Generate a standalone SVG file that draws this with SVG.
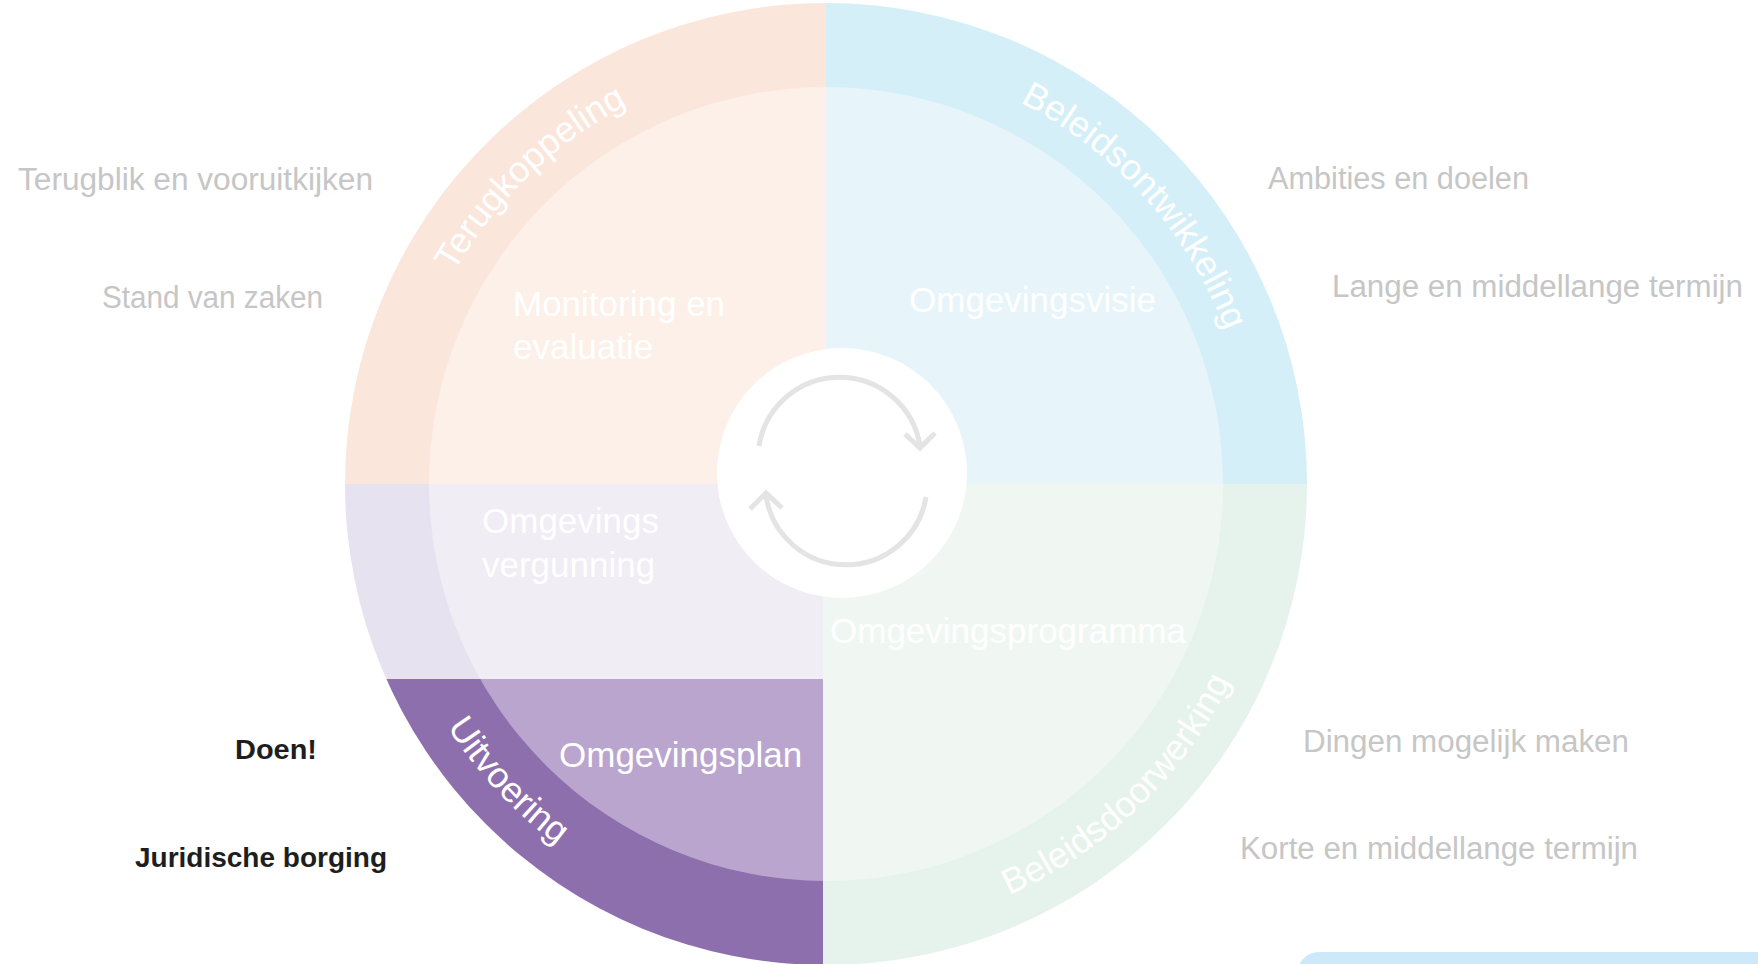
<svg xmlns="http://www.w3.org/2000/svg" width="1758" height="964" viewBox="0 0 1758 964">
  <style>
    .side { font-family: "Liberation Sans", Arial, sans-serif; font-size: 31px; fill: #c6c6c6; }
    .dark { font-family: "Liberation Sans", Arial, sans-serif; font-size: 28px; font-weight: bold; fill: #1e1e1e; }
    .inner { font-family: "Liberation Sans", Arial, sans-serif; font-size: 35px; fill: #ffffff; }
    .ring { font-family: "Liberation Sans", Arial, sans-serif; font-size: 36px; fill: #ffffff; }
    .cyc { fill: none; stroke: #e4e4e4; stroke-width: 5; }
  </style>
  <defs>
    <clipPath id="outerClip"><circle cx="826" cy="484" r="481"/></clipPath>
    <clipPath id="innerClip"><circle cx="826" cy="484" r="397"/></clipPath>
    <path id="arcTerug" d="M 398.07 476.53 A 428 428 0 0 1 833.47 56.07"/>
    <path id="arcOntw" d="M 848.40 56.59 A 428 428 0 0 1 1253.41 506.40"/>
    <path id="arcDoor" d="M 818.15 933.93 A 450 450 0 0 0 1275.93 491.85"/>
    <path id="arcUitv" d="M 376.27 468.30 A 450 450 0 0 0 810.30 933.73"/>
  </defs>

  <rect x="0" y="0" width="1758" height="964" fill="#ffffff"/>

  <!-- bottom-right light blue panel -->
  <rect x="1297" y="952" width="500" height="60" rx="22" fill="#cde8f8"/>

  <g id="q-terugkoppeling">
    <rect x="340" y="0" width="486" height="484" fill="#fbe6dc" clip-path="url(#outerClip)"/>
    <rect x="340" y="0" width="486" height="484" fill="#fcf0e9" clip-path="url(#innerClip)"/>
    <text class="ring"><textPath href="#arcTerug" startOffset="50%" text-anchor="middle">Terugkoppeling</textPath></text>
    <text class="inner" x="513" y="316">Monitoring en</text>
    <text class="inner" x="513" y="359">evaluatie</text>
  </g>

  <g id="q-beleidsontwikkeling">
    <rect x="826" y="0" width="486" height="484" fill="#d4eff7" clip-path="url(#outerClip)"/>
    <rect x="826" y="0" width="486" height="484" fill="#e7f5fa" clip-path="url(#innerClip)"/>
    <text class="ring"><textPath href="#arcOntw" startOffset="50%" text-anchor="middle">Beleidsontwikkeling</textPath></text>
    <text class="inner" x="909" y="312">Omgevingsvisie</text>
  </g>

  <g id="q-beleidsdoorwerking">
    <rect x="823" y="484" width="489" height="484" fill="#e6f3ec" clip-path="url(#outerClip)"/>
    <rect x="823" y="484" width="489" height="484" fill="#f0f7f3" clip-path="url(#innerClip)"/>
    <text class="ring"><textPath href="#arcDoor" startOffset="50%" text-anchor="middle">Beleidsdoorwerking</textPath></text>
    <text class="inner" x="830" y="643">Omgevingsprogramma</text>
  </g>

  <g id="q-vergunning">
    <rect x="340" y="484" width="483" height="195" fill="#e7e2ef" clip-path="url(#outerClip)"/>
    <rect x="340" y="484" width="483" height="195" fill="#f0edf5" clip-path="url(#innerClip)"/>
    <text class="inner" x="482" y="533">Omgevings</text>
    <text class="inner" x="482" y="577">vergunning</text>
  </g>

  <g id="q-uitvoering">
    <rect x="340" y="679" width="483" height="290" fill="#8e6fad" clip-path="url(#outerClip)"/>
    <rect x="340" y="679" width="483" height="290" fill="#b9a5cd" clip-path="url(#innerClip)"/>
    <text class="ring"><textPath href="#arcUitv" startOffset="50%" text-anchor="middle">Uitvoering</textPath></text>
    <text class="inner" x="559" y="767">Omgevingsplan</text>
  </g>

  <g id="center">
    <circle cx="842" cy="473" r="125" fill="#ffffff"/>
  </g>

  <g id="connectors">
    <path class="cyc" d="M 759 446 A 81.5 81.5 0 0 1 920 446"/>
    <path class="cyc" d="M 905 434 L 920 448 L 935 433"/>
    <path class="cyc" d="M 926 497 A 81 81 0 0 1 766 496"/>
    <path class="cyc" d="M 750 509 L 766 493 L 782 508"/>
  </g>

  <g id="labels-left">
    <text class="side" x="18" y="190" textLength="355" lengthAdjust="spacingAndGlyphs">Terugblik en vooruitkijken</text>
    <text class="side" x="102" y="308" textLength="221" lengthAdjust="spacingAndGlyphs">Stand van zaken</text>
    <text class="dark" x="235" y="759" textLength="82" lengthAdjust="spacingAndGlyphs">Doen!</text>
    <text class="dark" x="135" y="867" textLength="252" lengthAdjust="spacingAndGlyphs">Juridische borging</text>
  </g>

  <g id="labels-right">
    <text class="side" x="1268" y="189" textLength="261" lengthAdjust="spacingAndGlyphs">Ambities en doelen</text>
    <text class="side" x="1332" y="297" textLength="411" lengthAdjust="spacingAndGlyphs">Lange en middellange termijn</text>
    <text class="side" x="1303" y="752" textLength="326" lengthAdjust="spacingAndGlyphs">Dingen mogelijk maken</text>
    <text class="side" x="1240" y="859" textLength="398" lengthAdjust="spacingAndGlyphs">Korte en middellange termijn</text>
  </g>
</svg>
